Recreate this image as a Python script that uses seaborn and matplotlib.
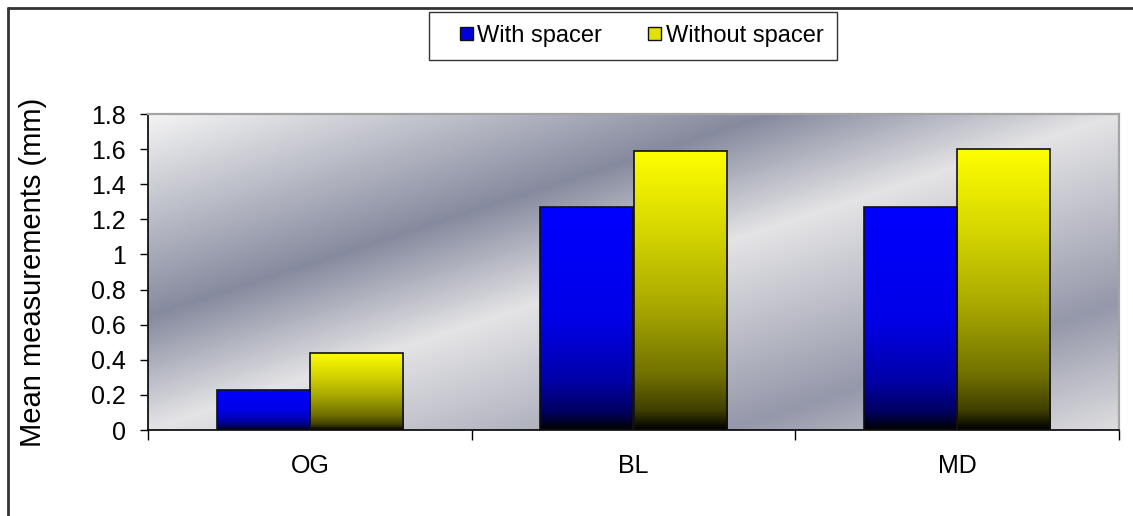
import numpy as np
import pandas as pd
import matplotlib
matplotlib.use("Agg")
import matplotlib.pyplot as plt
from matplotlib.lines import Line2D
from matplotlib.patches import Patch, Rectangle
from matplotlib.legend_handler import HandlerPatch
import seaborn as sns

# --- data -------------------------------------------------------------
categories = ["OG", "BL", "MD"]
series_names = ["With spacer", "Without spacer"]
with_spacer = [0.23, 1.27, 1.27]
without_spacer = [0.44, 1.59, 1.60]
y_ticks = [0, 0.2, 0.4, 0.6, 0.8, 1.0, 1.2, 1.4, 1.6, 1.8]
y_tick_labels = ["0", "0.2", "0.4", "0.6", "0.8", "1", "1.2", "1.4", "1.6", "1.8"]
y_label = "Mean measurements (mm)"

df = pd.DataFrame({
    "category": categories * 2,
    "series": [series_names[0]] * 3 + [series_names[1]] * 3,
    "value": with_spacer + without_spacer,
})

sns.set_theme(style="white")
plt.rcParams["font.family"] = ["Liberation Sans", "DejaVu Sans"]
plt.rcParams["text.color"] = "#000000"
plt.rcParams["xtick.color"] = "#000000"
plt.rcParams["ytick.color"] = "#000000"
plt.rcParams["axes.labelcolor"] = "#000000"

W, H = 1133, 516
fig = plt.figure(figsize=(W / 100, H / 100), dpi=100)
ax = fig.add_axes([148 / W, 1 - 430 / H, (1119 - 148) / W, (430 - 114) / H])

sns.barplot(data=df, x="category", y="value", hue="series", order=categories,
            hue_order=series_names, palette=["#0000ff", "#ffff00"],
            width=0.575, gap=0, edgecolor="#111111", linewidth=1.2,
            legend=False, ax=ax, errorbar=None)

ax.set_xlim(-0.5, 2.5)
ax.set_ylim(0, 1.8)

# diagonal banded background of the plot area
def interp_colors(t, stops, colors):
    cols = np.array([matplotlib.colors.to_rgb(c) for c in colors])
    return np.stack([np.interp(t, stops, cols[:, k]) for k in range(3)], axis=-1)

nu, nv = 400, 200
u = np.linspace(0, 1, nu)
v = np.linspace(1, 0, nv)
U, V = np.meshgrid(u, v)
T = U - V
bg = interp_colors(T, [-1.0, -0.36, 0.0, 0.6, 1.0],
                   ["#f4f4f4", "#868a9e", "#e4e4e6", "#9598aa", "#dedee0"])
ax.imshow(bg, extent=(-0.5, 2.5, 0, 1.8), aspect="auto", zorder=0,
          interpolation="bilinear")

# vertical shading inside each bar
blue_stops = ([0.0, 0.5, 0.78, 0.92, 1.0],
              ["#0000ff", "#0000e8", "#0000a8", "#000060", "#000000"])
yellow_stops = ([0.0, 0.3, 0.55, 0.8, 0.93, 1.0],
                ["#ffff00", "#d4d400", "#aaaa00", "#727200", "#404000", "#000000"])
patches = [p for p in ax.patches if p.get_height() > 0]
for p in patches:
    fc = p.get_facecolor()
    stops = blue_stops if fc[2] > 0.5 else yellow_stops
    s = np.linspace(0, 1, 256)
    grad = interp_colors(s, *stops)[:, None, :]
    x0, w, h = p.get_x(), p.get_width(), p.get_height()
    im = ax.imshow(grad, extent=(x0, x0 + w, 0, h), aspect="auto",
                   zorder=2, interpolation="bilinear")
    im.set_clip_path(p)
    p.set_facecolor("none")
    p.set_zorder(3)

ax.set_xlim(-0.5, 2.5)
ax.set_ylim(0, 1.8)

# axes styling
for side in ["left", "bottom"]:
    ax.spines[side].set_color("#000000")
    ax.spines[side].set_linewidth(1.2)
for side in ["top", "right"]:
    ax.spines[side].set_color("#a4a4a4")
    ax.spines[side].set_linewidth(1.6)

ax.set_yticks(y_ticks)
ax.set_yticklabels(y_tick_labels)
ax.tick_params(axis="y", which="major", direction="out", length=6, width=1,
               color="#000000", labelsize=18, pad=10, left=True)
ax.set_xticks([0, 1, 2])
ax.set_xticklabels(categories)
ax.tick_params(axis="x", which="major", length=0, labelsize=18, pad=17)
ax.set_xticks([-0.5, 0.5, 1.5, 2.5], minor=True)
ax.tick_params(axis="x", which="minor", direction="out", length=7, width=1,
               color="#000000", bottom=True)
ax.set_xlabel("")
ax.set_ylabel("")

# rotated axis title
fig.text(33 / W, 1 - 272 / H, y_label, rotation=90, fontsize=21,
         ha="center", va="center", color="#000000")

# legend: small square key sitting at the right end of a wider handle box
def square_key(legend, orig_handle, xdescent, ydescent, width, height, fontsize):
    side = 13 * 72 / fig.dpi
    return Rectangle((-xdescent + width - side, -ydescent + (height - side) / 2),
                     side, side)

handles = [Patch(facecolor="#0000dd", edgecolor="#111111", linewidth=1),
           Patch(facecolor="#e2e200", edgecolor="#111111", linewidth=1)]
leg = fig.legend(handles, series_names, loc="center",
                 bbox_to_anchor=(633 / W, 1 - 36 / H), ncol=2, frameon=True,
                 fontsize=17, handlelength=1.28, handleheight=0.7,
                 handletextpad=0.2, columnspacing=1.22, borderpad=0.55,
                 borderaxespad=0, fancybox=False,
                 handler_map={Patch: HandlerPatch(patch_func=square_key)})
leg.get_frame().set_edgecolor("#000000")
leg.get_frame().set_linewidth(1.0)

# outer chart frame
fig.add_artist(Line2D([8 / W, 1.0], [1 - 8 / H, 1 - 8 / H], color="#333333", lw=2))
fig.add_artist(Line2D([8 / W, 8 / W], [1 - 8 / H, 0.0], color="#333333", lw=2))

fig.savefig("out.png", dpi=100, facecolor="white")
